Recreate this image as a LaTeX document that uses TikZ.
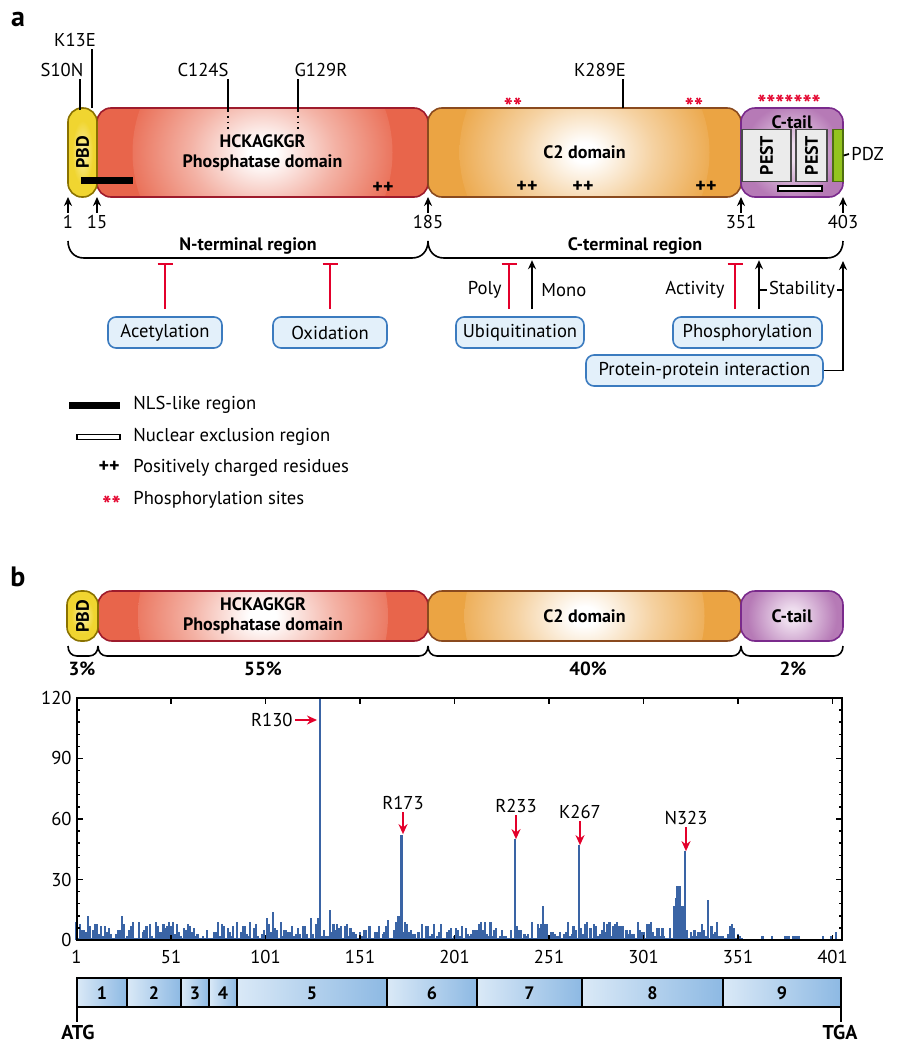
\documentclass[tikz,border=0pt]{standalone}
\usepackage{fontspec}
\setmainfont{PT Sans}
\usetikzlibrary{arrows.meta,positioning}

\definecolor{phoscol}{HTML}{E8654B}
\definecolor{phosline}{HTML}{9E1B2C}
\definecolor{ctwocol}{HTML}{EBA443}
\definecolor{ctwoline}{HTML}{8A4A1E}
\definecolor{tailcol}{HTML}{B67AB6}
\definecolor{tailin}{HTML}{EEDDEE}
\definecolor{tailline}{HTML}{7A2A8C}
\definecolor{pbdcol}{HTML}{F0D530}
\definecolor{pbdin}{HTML}{FBF0A8}
\definecolor{pbdline}{HTML}{8A7200}
\definecolor{pestfill}{HTML}{EBEBEB}
\definecolor{pestline}{HTML}{4A4A4A}
\definecolor{pdzcol}{HTML}{93C41E}
\definecolor{pdzline}{HTML}{4E6E10}
\definecolor{boxfill}{HTML}{E3F0FA}
\definecolor{boxline}{HTML}{3B7BBF}
\definecolor{hotred}{HTML}{E3002B}
\definecolor{barcol}{HTML}{3A64A5}
\definecolor{exonlight}{HTML}{DAE9F7}
\definecolor{exondark}{HTML}{8DB9E3}

\pgfdeclareradialshading{phosglow}{\pgfpoint{0bp}{0bp}}{color(0bp)=(white); color(2bp)=(white); color(11bp)=(phoscol!50!white); color(22bp)=(phoscol); color(50bp)=(phoscol)}
\pgfdeclareradialshading{ctwoglow}{\pgfpoint{0bp}{0bp}}{color(0bp)=(white); color(2bp)=(white); color(11bp)=(ctwocol!50!white); color(22bp)=(ctwocol); color(50bp)=(ctwocol)}
\pgfdeclareradialshading{tailglow}{\pgfpoint{0bp}{0bp}}{color(0bp)=(tailin); color(4bp)=(tailin); color(22bp)=(tailcol); color(50bp)=(tailcol)}
\pgfdeclareradialshading{pbdglow}{\pgfpoint{0bp}{0bp}}{color(0bp)=(pbdin); color(18bp)=(pbdcol); color(50bp)=(pbdcol)}

\tikzset{
  lab/.style={inner sep=1pt, font=\fontsize{9.3}{11}\selectfont},
  heading/.style={font=\fontsize{9}{10}\selectfont\bfseries, align=center, inner sep=1pt},
  panel/.style={inner sep=0pt, font=\fontsize{14}{16}\selectfont\bfseries},
  protbox/.style={heading, draw, line width=0.8pt, rounded corners=7pt, inner sep=0pt},
  glow/.style 2 args={path picture={\shade[shading=#1] (path picture bounding box.center) circle (#2);}},
  pest/.style={draw=pestline, fill=pestfill, line width=0.7pt, inner sep=0pt,
    font=\fontsize{9}{10}\selectfont\bfseries},
  ptm/.style={draw=boxline, fill=boxfill, line width=0.8pt, rounded corners=4pt,
    minimum height=15.5pt, inner sep=0pt, font=\fontsize{9.3}{11}\selectfont},
  mut/.style={line width=0.9pt},
  uparrow/.style={line width=0.8pt, -{Stealth[length=4.5pt,width=4pt]}},
  inhibit/.style={hotred, line width=1pt, -{Bar[width=7.5pt,line width=1pt]}},
  bracket/.style={line width=0.8pt},
  hotarrow/.style={hotred, line width=1.1pt, -{Stealth[length=5pt,width=4.5pt]}},
  axisline/.style={line width=0.7pt},
  exonbox/.style={draw, line width=0.6pt, left color=exonlight, right color=exondark},
  exonlab/.style={inner sep=0pt, font=\fontsize{9}{10}\selectfont\bfseries},
  plus/.style={inner sep=1pt, font=\fontsize{10}{11}\selectfont\bfseries},
  stars/.style={anchor=base, inner sep=0pt, text=hotred, font=\fontsize{12}{13}\selectfont\bfseries},
}

% x1, x2, top, depth, radius
\newcommand{\spanbrace}[5]{%
  \draw[bracket] (#1,#3) .. controls (#1,{#3+#4*0.6}) and ({#1+#5*0.4},{#3+#4}) .. ({#1+#5},{#3+#4})
    -- ({#2-#5},{#3+#4}) .. controls ({#2-#5*0.4},{#3+#4}) and (#2,{#3+#4*0.6}) .. (#2,#3);}

\begin{document}
\begin{tikzpicture}[x=0.5pt,y=-0.5pt]
\useasboundingbox (0,0) rectangle (896,1050);

% ---------- panel a ----------
\node[panel] (pa) at (18,19) {a};

\node[protbox, draw=phosline, fill=phoscol, glow={phosglow}{130}, minimum width=165.5pt, minimum height=44.5pt] (phos) at (262.5,152.5) {HCKAGKGR\\Phosphatase domain};
\node[protbox, draw=ctwoline, fill=ctwocol, glow={ctwoglow}{125}, minimum width=156.5pt, minimum height=44.5pt] (c2) at (584.5,152.5) {C2 domain};
\node[protbox, draw=tailline, fill=tailcol, glow={tailglow}{55}, minimum width=51pt, minimum height=44.5pt] (ctail) at (792,152.5) {};
\node[protbox, draw=pbdline, shade, shading=pbdglow, minimum width=14.5pt, minimum height=44.5pt] (pbd) at (82.5,152.5) {\rotatebox{90}{PBD}};

\node[pest, minimum width=26pt, minimum height=24.5pt, rotate=90] (pest1) at (766.5,155.5) {PEST};
\node[pest, minimum width=26pt, minimum height=15.5pt, rotate=90] (pest2) at (811.5,155.5) {PEST};
\node[heading, inner sep=0pt] (tailname) at (792,122.5) {C-tail};
\node[draw=pdzline, fill=pdzcol, line width=0.6pt, minimum width=5pt, minimum height=26pt, inner sep=0pt] (pdz) at (838,155.5) {};
\node[lab, anchor=west] (pdzname) at (849,154) {PDZ};
\draw[mut] (pdz.east) -- (pdzname.west);
\node[draw, fill=white, line width=0.6pt, minimum width=22pt, minimum height=2.5pt, inner sep=0pt] (nes) at (800,188.5) {};
\node[fill=black, minimum width=26pt, minimum height=3.5pt, inner sep=0pt] (nls) at (107,180.5) {};

% charged residues and phosphosites
\node[plus] (pp1) at (383,188) {++};
\node[plus] (pp2) at (527,187) {++};
\node[plus] (pp3) at (583,187) {++};
\node[plus] (pp4) at (706,187) {++};
\node[stars] (st1) at (513,115) {**};
\node[stars] (st2) at (694,115) {**};
\node[stars] (st3) at (789,112) {*******};

% mutations
\node[lab] (s10n) at (62,70) {S10N};
\node[lab] (k13e) at (75,40) {K13E};
\node[lab] (c124s) at (203,70) {C124S};
\node[lab] (g129r) at (321,70) {G129R};
\node[lab] (k289e) at (600,70) {K289E};
\coordinate (m10) at (80,110);
\coordinate (m13) at (92,108);
\coordinate (m124) at (228,110);
\coordinate (m129) at (298,110);
\coordinate (m289) at (623,108);
\draw[mut] (m10) -- (m10 |- s10n.south);
\draw[mut] (m13) -- (m13 |- k13e.south);
\draw[mut] (m124) -- (m124 |- c124s.south);
\draw[mut] (m129) -- (m129 |- g129r.south);
\draw[mut] (m289) -- (m289 |- k289e.south);
\draw[mut, dotted] (m124) -- ++(0,20);
\draw[mut, dotted] (m129) -- ++(0,20);

% residue numbers
\foreach \x/\n in {68/1, 97/15, 428/185, 741/351, 843/403} {
  \node[lab] (pos\n) at (\x,222) {\n};
  \draw[uparrow] (pos\n.north) -- (\x,197);
}

% regions
\spanbrace{68}{428}{241}{17}{16}
\spanbrace{428}{843}{241}{17}{16}
\node[heading] (nterm) at (248,246) {N-terminal region};
\node[heading] (cterm) at (635,246) {C-terminal region};

% modifications
\node[ptm, minimum width=57pt] (acet) at (165,332.5) {Acetylation};
\node[ptm, minimum width=57pt] (oxid) at (330,332.5) {Oxidation};
\node[ptm, minimum width=64pt] (ubiq) at (520,332.5) {Ubiquitination};
\node[ptm, minimum width=74.5pt] (phosph) at (747.5,332.5) {Phosphorylation};
\node[ptm, minimum width=118.5pt] (ppi) at (704.5,370.5) {Protein-protein interaction};

\draw[inhibit] ([yshift=3.5pt]acet.north) -- ++(0,-46);
\draw[inhibit] ([yshift=3.5pt]oxid.north) -- ++(0,-46);
\draw[inhibit] ([xshift=-5.5pt,yshift=3.5pt]ubiq.north) -- ++(0,-46);
\draw[uparrow] ([xshift=6pt,yshift=3.5pt]ubiq.north) -- ++(0,-49);
\draw[inhibit] ([xshift=-6.25pt,yshift=3.5pt]phosph.north) -- ++(0,-46);
\draw[uparrow] ([xshift=5.75pt,yshift=3.5pt]phosph.north) -- ++(0,-49);
\draw[uparrow] (ppi.east) -| (843,261);

\node[lab, anchor=east] (poly) at (504,290) {Poly};
\node[lab, anchor=west] (mono) at (539,290) {Mono};
\node[lab, anchor=east] (activ) at (727,290) {Activity};
\draw[mut] (759,290) -- (843,290);
\node[lab, fill=white] (stab) at (802,290) {Stability};

% legend
\node[lab, anchor=west] (lnls) at (131,405) {NLS-like region};
\node[lab, anchor=west] (lnes) at (131,437) {Nuclear exclusion region};
\node[lab, anchor=west] (lpos) at (131,468) {Positively charged residues};
\node[lab, anchor=west] (lpho) at (131,500) {Phosphorylation sites};
\fill (69,401.5) rectangle (120,408.5);
\draw[line width=0.6pt, fill=white] (77,434.5) rectangle (120,439.5);
\node[plus, anchor=east] (lplus) at (122,467) {++};
\node[stars, anchor=base east] (lstar) at (121,513) {**};

% ---------- panel b ----------
\node[panel] (pb) at (18,577) {b};

\node[protbox, draw=phosline, fill=phoscol, glow={phosglow}{125}, minimum width=165pt, minimum height=25pt] (phosb) at (263,616) {HCKAGKGR\\Phosphatase domain};
\node[protbox, draw=ctwoline, fill=ctwocol, glow={ctwoglow}{120}, minimum width=156.5pt, minimum height=25pt] (c2b) at (584.5,616) {C2 domain};
\node[protbox, draw=tailline, fill=tailcol, glow={tailglow}{50}, minimum width=51pt, minimum height=25pt] (ctailb) at (792,616) {C-tail};
\node[protbox, draw=pbdline, shade, shading=pbdglow, minimum width=15.5pt, minimum height=25pt] (pbdb) at (82.5,616) {\rotatebox{90}{PBD}};

\spanbrace{68}{98}{646}{10}{9}
\spanbrace{98}{428}{646}{10}{9}
\spanbrace{428}{741}{646}{10}{9}
\spanbrace{741}{843}{646}{10}{9}
\node[heading, font=\fontsize{9.5}{10}\selectfont\bfseries] (pc1) at (82,669) {3\%};
\node[heading, font=\fontsize{9.5}{10}\selectfont\bfseries] (pc2) at (263,669) {55\%};
\node[heading, font=\fontsize{9.5}{10}\selectfont\bfseries] (pc3) at (588,669) {40\%};
\node[heading, font=\fontsize{9.5}{10}\selectfont\bfseries] (pc4) at (793,669) {2\%};

% mutation counts per residue
\pgfmathsetseed{4021}
\foreach \i in {1,...,351} {
  \pgfmathsetmacro\h{1+int(9*rnd^1.5)}
  \fill[barcol] ({76.5+(\i-1)*1.89-1.1},940) rectangle ++(2.2,{-\h*2.017});
}
\foreach \i/\h in {1/9,7/12,8/7,25/12,26/8,76/9,93/9,102/11,105/14,125/11,129/11,130/120,
    135/15,139/8,166/10,171/12,172/12,173/52,214/8,233/50,242/9,248/17,249/8,267/47,275/8,
    288/7,289/7,290/7,309/6,315/6,317/17,318/21,319/27,320/27,321/17,322/17,323/44,335/20,347/7,
    352/2,353/1,364/2,369/2,376/2,377/2,378/2,380/2,381/2,382/2,383/2,396/2,400/2,403/4} {
  \fill[barcol] ({76.5+(\i-1)*1.89-1.1},940) rectangle ++(2.2,{-\h*2.017});
}

% axes
\draw[axisline] (77,698) rectangle (842,940);
\foreach \v in {0,6,...,120} {
  \draw[axisline] (77,{940-\v*2.017}) -- ++(3,0);
  \draw[axisline] (842,{940-\v*2.017}) -- ++(-3,0);
}
\foreach \v in {0,30,...,120} {
  \draw[axisline] (77,{940-\v*2.017}) -- ++(6,0);
  \draw[axisline] (842,{940-\v*2.017}) -- ++(-6,0);
  \node[lab, anchor=east] (ytick\v) at (74,{940-\v*2.017}) {\v};
}
\foreach \r in {1,51,...,401} {
  \draw[axisline] ({76.5+(\r-1)*1.89},698) -- ++(0,6);
  \draw[axisline] ({76.5+(\r-1)*1.89},940) -- ++(0,-5);
  \node[lab] (xtick\r) at ({76.5+(\r-1)*1.89},957) {\r};
}

% hot spots
\node[lab, anchor=east] (r130) at (295,720) {R130};
\node[lab] (r173) at (403,803) {R173};
\node[lab] (r233) at (516,806) {R233};
\node[lab] (k267) at (580,812) {K267};
\node[lab] (n323) at (686,818) {N323};
\draw[hotarrow] (r130.east) -- ++(22,0);
\draw[hotarrow] (r173.south) -- ++(0,22);
\draw[hotarrow] (r233.south) -- ++(0,24);
\draw[hotarrow] (k267.south) -- ++(0,24);
\draw[hotarrow] (n323.south) -- ++(0,24);

% exons
\foreach \a/\b/\n in {77/127/1,127/181/2,181/209/3,209/237/4,237/387/5,387/477/6,477/582/7,582/723/8,723/841/9} {
  \draw[exonbox] (\a,978) rectangle (\b,1007);
  \node[exonlab] (exon\n) at ({(\a+\b)/2},993) {\n};
}
\node[heading, font=\fontsize{10}{12}\selectfont\bfseries] (atg) at (78,1032) {ATG};
\node[heading, font=\fontsize{10}{12}\selectfont\bfseries] (tga) at (840,1032) {TGA};
\draw[mut] (77,1007) -- (atg.north -| 77,0);
\draw[mut] (841,1007) -- (tga.north -| 841,0);
\end{tikzpicture}
\end{document}
